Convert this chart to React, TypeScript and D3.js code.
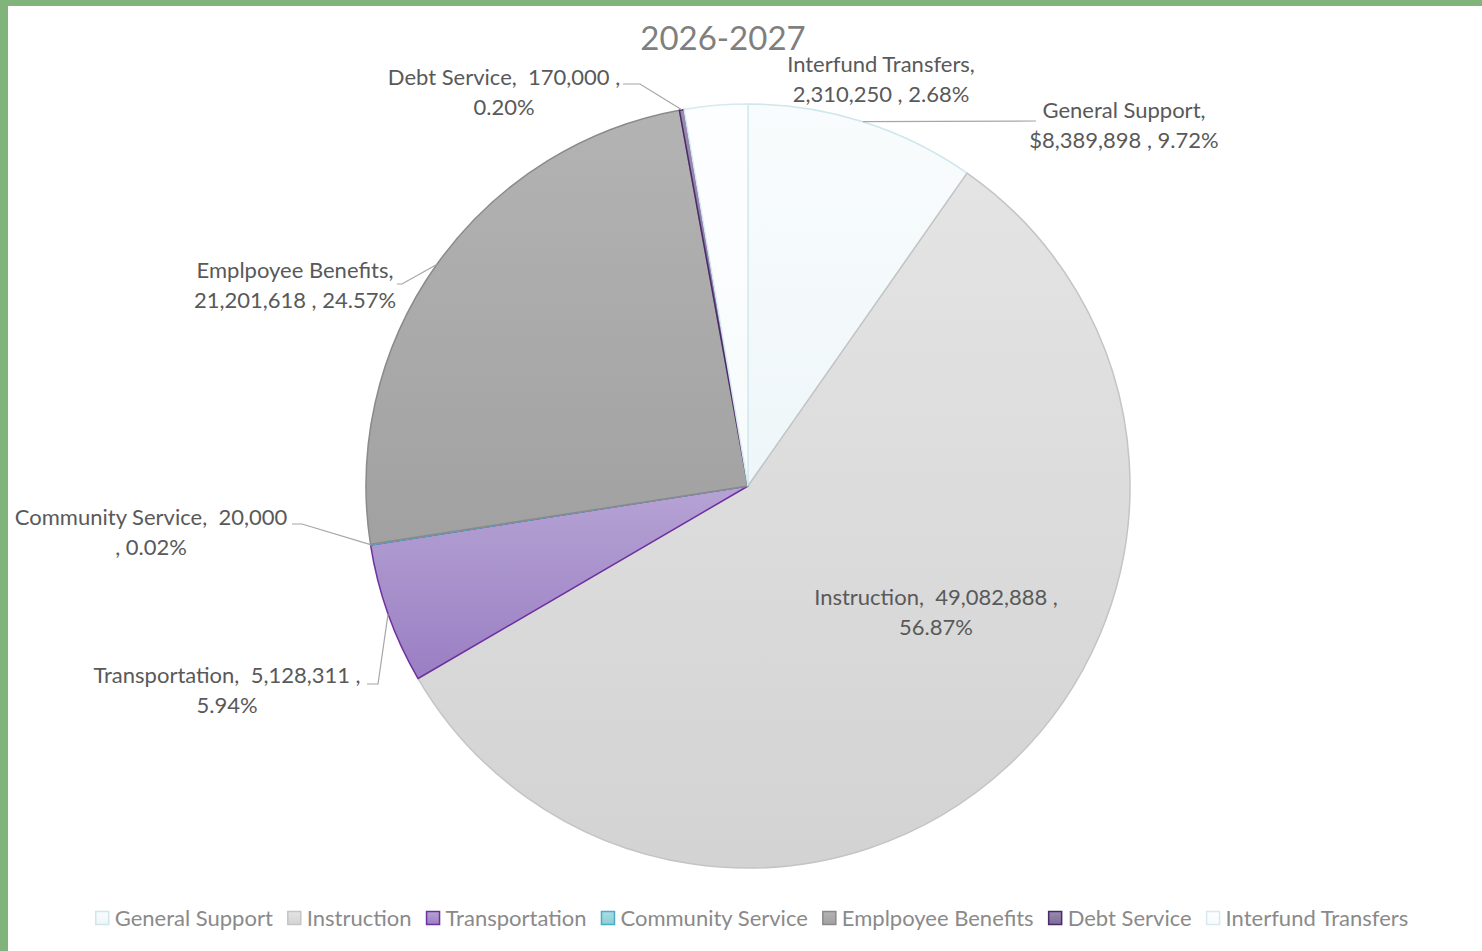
import { arc, format, pie, PieArcDatum, select, sum } from 'd3';
import React, { useEffect, useRef } from 'react';

const WIDTH = 1482;
const HEIGHT = 951;
const CX = 748;
const CY = 486;
const RADIUS = 382;
const FONT = 'Lato, "Open Sans", sans-serif';
const TEXT_COLOR = '#595959';

// Data
const categories = [
  'General Support',
  'Instruction',
  'Transportation',
  'Community Service',
  'Emplpoyee Benefits',
  'Debt Service',
  'Interfund Transfers',
];
const values = [8389898, 49082888, 5128311, 20000, 21201618, 170000, 2310250];
const valueText = ['$8,389,898', '49,082,888', '5,128,311', '20,000', '21,201,618', '170,000', '2,310,250'];

// fill gradient top/bottom and outline colour per slice
const fillTop = ['#f9fcfd', '#e4e4e4', '#b6a3d4', '#a9dde3', '#b3b3b3', '#9a8bb0', '#fdfeff'];
const fillBottom = ['#eef6f9', '#d3d3d3', '#9a7fc3', '#8fcdd5', '#a1a1a1', '#7d6b96', '#f7fbfc'];
const strokes = ['#cfe6ec', '#c4c4c4', '#7030a0', '#4bacc6', '#8a8a8a', '#4b2a6a', '#d5eaf0'];

// label placement: text centre, line break mode, leader path after the arc point
type LabelLayout = { x: number; y: number; mode: 'name' | 'value' | 'valueOnly'; leader: [number, number][] };
const labelLayout: LabelLayout[] = [
  { x: 1124, y: 110, mode: 'name', leader: [[1036, 121]] },
  { x: 936, y: 597, mode: 'value', leader: [] },
  { x: 227, y: 675, mode: 'value', leader: [[378, 684], [367, 684]] },
  { x: 151, y: 517, mode: 'valueOnly', leader: [[302, 524], [292, 524]] },
  { x: 295, y: 270, mode: 'name', leader: [[402, 284], [397, 284]] },
  { x: 504, y: 77, mode: 'value', leader: [[640, 84], [623, 84]] },
  { x: 881, y: 64, mode: 'name', leader: [] },
];

type Slice = { name: string; value: number; index: number };

const App = (): JSX.Element => {
  const ref = useRef<SVGSVGElement>(null);

  useEffect(() => {
    if (ref.current === null) return;
    ref.current.replaceChildren();

    const svg = select(ref.current);
    const total = sum(values);
    const pct = format('.2%');
    const data: Slice[] = categories.map((name, index) => ({ name, value: values[index], index }));

    // green frame along the left and top edge
    svg.append('rect').attr('width', WIDTH).attr('height', HEIGHT).attr('fill', '#ffffff');
    svg.append('rect').attr('width', 8).attr('height', HEIGHT).attr('fill', '#80b47a');
    svg.append('rect').attr('width', WIDTH).attr('height', 6).attr('fill', '#80b47a');

    const defs = svg.append('defs');
    data.forEach((d) => {
      const g = defs
        .append('linearGradient')
        .attr('id', `grad-${d.index}`)
        .attr('x1', 0)
        .attr('y1', 0)
        .attr('x2', 0)
        .attr('y2', 1);
      g.append('stop').attr('offset', '0%').attr('stop-color', fillTop[d.index]);
      g.append('stop').attr('offset', '100%').attr('stop-color', fillBottom[d.index]);
    });

    svg
      .append('text')
      .attr('x', 723)
      .attr('y', 50)
      .attr('text-anchor', 'middle')
      .attr('font-family', FONT)
      .attr('font-size', 33)
      .attr('fill', '#7f7f7f')
      .text('2026-2027');

    const arcs = pie<Slice>()
      .sort(null)
      .value((d) => d.value)(data);
    const arcGen = arc<PieArcDatum<Slice>>().innerRadius(0).outerRadius(RADIUS);
    const edge = arc<PieArcDatum<Slice>>().innerRadius(RADIUS).outerRadius(RADIUS);

    const plot = svg.append('g').attr('transform', `translate(${CX},${CY})`);
    plot
      .selectAll('path')
      .data(arcs)
      .join('path')
      .attr('d', arcGen)
      .attr('fill', (d) => `url(#grad-${d.data.index})`)
      .attr('stroke', (d) => strokes[d.data.index])
      .attr('stroke-width', 1.5)
      .attr('stroke-linejoin', 'round');

    // leader lines
    arcs.forEach((a) => {
      const lay = labelLayout[a.data.index];
      if (lay.leader.length === 0) return;
      const [px, py] = edge.centroid(a);
      const pts: [number, number][] = [[px + CX, py + CY], ...lay.leader];
      svg
        .append('polyline')
        .attr('points', pts.map((p) => p.join(',')).join(' '))
        .attr('fill', 'none')
        .attr('stroke', '#a6a6a6')
        .attr('stroke-width', 1.2);
    });

    // data labels
    arcs.forEach((a) => {
      const i = a.data.index;
      const lay = labelLayout[i];
      const p = pct(a.data.value / total);
      let lines: string[];
      if (lay.mode === 'name') lines = [`${a.data.name},`, `${valueText[i]} , ${p}`];
      else if (lay.mode === 'value') lines = [`${a.data.name},  ${valueText[i]} ,`, p];
      else lines = [`${a.data.name},  ${valueText[i]}`, `, ${p}`];
      const t = svg
        .append('text')
        .attr('text-anchor', 'middle')
        .attr('font-family', FONT)
        .attr('font-size', 22)
        .attr('fill', TEXT_COLOR);
      lines.forEach((line, k) => {
        t.append('tspan')
          .attr('x', lay.x)
          .attr('y', lay.y + 8 + k * 30)
          .attr('xml:space', 'preserve')
          .style('white-space', 'pre')
          .text(line);
      });
    });

    // legend, measured and centred
    const legend = svg.append('g');
    const items = legend
      .selectAll('g')
      .data(data)
      .join('g');
    items
      .append('rect')
      .attr('width', 13)
      .attr('height', 13)
      .attr('y', -6.5)
      .attr('fill', (d) => `url(#grad-${d.index})`)
      .attr('stroke', (d) => strokes[d.index])
      .attr('stroke-width', 1.5);
    items
      .append('text')
      .attr('x', 19)
      .attr('dy', '0.35em')
      .attr('font-family', FONT)
      .attr('font-size', 22)
      .attr('fill', '#8a8a8a')
      .text((d) => d.name);
    const widths = items.nodes().map((n) => 19 + (n.querySelector('text') as SVGTextElement).getComputedTextLength());
    const gap = 15;
    const totalW = sum(widths) + gap * (widths.length - 1);
    let x = 752 - totalW / 2;
    items.attr('transform', (_, k) => {
      const tx = x;
      x += widths[k] + gap;
      return `translate(${tx},918)`;
    });
  }, []);

  return (
    <svg
      ref={ref}
      width={WIDTH}
      height={HEIGHT}
      viewBox={`0 0 ${WIDTH} ${HEIGHT}`}
      style={{ position: 'absolute', left: 0, top: 0 }}
    />
  );
};

export default App;
